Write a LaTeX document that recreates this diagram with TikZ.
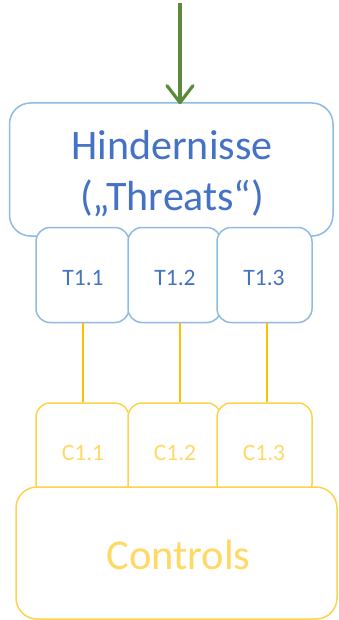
\documentclass[tikz,border=0pt]{standalone}
\usepackage{fontspec}
\setmainfont{Carlito}
\usetikzlibrary{arrows.meta}
\definecolor{threatedge}{HTML}{8FBBE3}
\definecolor{threattext}{HTML}{4472C4}
\definecolor{ctrledge}{HTML}{FFD24D}
\definecolor{ctrltext}{HTML}{FFD966}
\definecolor{ctrllink}{HTML}{FFC000}
\definecolor{flowgreen}{HTML}{5A8A3A}
\begin{document}
\begin{tikzpicture}[x=1pt,y=-1pt,
  box/.style={draw, fill=white, line width=1.5pt, inner sep=0pt},
  bigbox/.style={box, rounded corners=21pt},
  smallbox/.style={box, rounded corners=14pt, minimum height=95pt},
  threat/.style={draw=threatedge},
  ctrl/.style={draw=ctrledge},
  lbl/.style={inner sep=0pt, anchor=base},
  bigtext/.style={lbl, font=\fontsize{42}{50}\selectfont},
  smalltext/.style={lbl, font=\fontsize{23.5}{28}\selectfont},
  link/.style={draw=ctrllink, line width=2.8pt},
  inflow/.style={draw=flowgreen, line width=3.2pt,
    -{Straight Barb[length=17pt, width=26pt, line cap=round, line join=round]}}
]
\useasboundingbox (0,0) rectangle (338,620);

% threats block
\node[bigbox, threat, minimum width=323.5pt, minimum height=133pt] (hind) at (171.25,169.5) {};
\node[bigtext, text=threattext] (hindA) at (172,160) {Hindernisse};
\node[bigtext, text=threattext] (hindB) at (172,211) {(„Threats“)};

\node[smallbox, threat, minimum width=93pt] (t1) at (82.5,275) {};
\node[smallbox, threat, minimum width=93pt] (t2) at (174.5,275) {};
\node[smallbox, threat, minimum width=95pt] (t3) at (264.5,275) {};
\node[smalltext, text=threattext] (t1l) at (83,285) {T1.1};
\node[smalltext, text=threattext] (t2l) at (175,285) {T1.2};
\node[smalltext, text=threattext] (t3l) at (264,285) {T1.3};

% incoming arrow
\coordinate (src) at (180,3);
\draw[inflow] (src) -- ([xshift=8.75pt,yshift=-2pt]hind.north);

% controls block
\node[smallbox, ctrl, minimum width=93pt] (c1) at (82.5,450.5) {};
\node[smallbox, ctrl, minimum width=93pt] (c2) at (174.5,450.5) {};
\node[smallbox, ctrl, minimum width=95pt] (c3) at (264.5,450.5) {};
\node[smalltext, text=ctrltext] (c1l) at (83,460) {C1.1};
\node[smalltext, text=ctrltext] (c2l) at (175,460) {C1.2};
\node[smalltext, text=ctrltext] (c3l) at (264,460) {C1.3};

% links between threats and controls
\draw[link] ([xshift=0.5pt]t1.south) -- ([xshift=0.5pt]c1.north);
\draw[link] ([xshift=5.5pt]t2.south) -- ([xshift=5.5pt]c2.north);
\draw[link] ([xshift=2.5pt]t3.south) -- ([xshift=2.5pt]c3.north);

\node[bigbox, ctrl, minimum width=321pt, minimum height=132pt] (controls) at (176.5,553) {};
\node[bigtext, text=ctrltext, font=\fontsize{42.5}{50}\selectfont] (controlsl) at (178.5,569) {Controls};
\end{tikzpicture}
\end{document}
